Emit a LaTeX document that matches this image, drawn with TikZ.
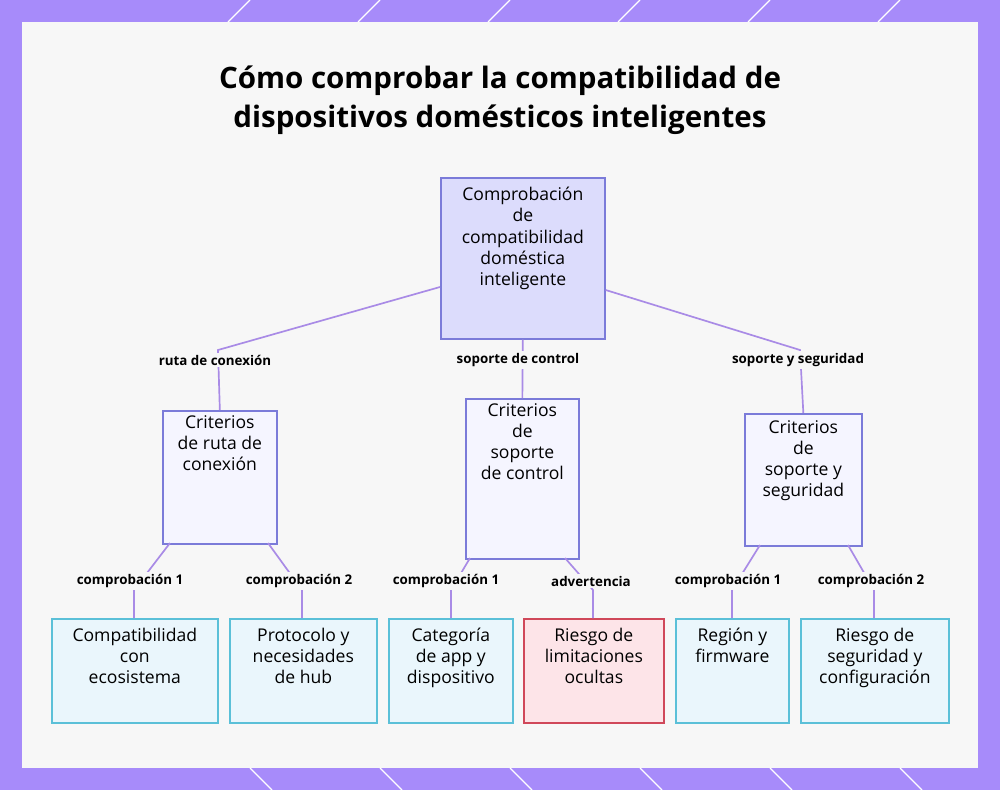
\documentclass[tikz,border=0pt]{standalone}
\usepackage{fontspec}
\setmainfont{Open Sans}
\usepackage{xcolor}
\usetikzlibrary{positioning}
\definecolor{frame}{HTML}{A78BFA}
\definecolor{panel}{HTML}{F7F7F7}
\definecolor{edgec}{HTML}{A98BE6}
\definecolor{rootf}{HTML}{DCDCFC}
\definecolor{rootd}{HTML}{7B7BD9}
\definecolor{midf}{HTML}{F5F5FF}
\definecolor{leaff}{HTML}{EAF6FC}
\definecolor{leafd}{HTML}{5BC0D8}
\definecolor{warnf}{HTML}{FDE4E8}
\definecolor{warnd}{HTML}{D0485A}
\tikzset{
  box/.style={draw, line width=1.2pt, align=center, anchor=north west, inner sep=0pt, font=\fontsize{12.5}{15}\selectfont},
  rootbox/.style={box, fill=rootf, draw=rootd},
  midbox/.style={box, fill=midf, draw=rootd},
  leafbox/.style={box, fill=leaff, draw=leafd},
  warnbox/.style={box, fill=warnf, draw=warnd},
  link/.style={draw=edgec, line width=1.2pt},
  lbl/.style={fill=panel, inner sep=1.5pt, font=\bfseries\fontsize{9.5}{11}\selectfont}
}
\begin{document}
\begin{tikzpicture}[x=0.025cm, y=-0.025cm]
        \useasboundingbox (0,0) rectangle (1000,790);
        \clip (0,0) rectangle (1000,790);
        \fill[frame] (0,0) rectangle (1000,790);
        \fill[panel] (22,22) rectangle (978,768);
        \foreach \a in {0,130,...,1000} {
          \draw[white, line width=0.8pt] (\a+250,0) -- (\a+228,22);
          \draw[white, line width=0.8pt] (\a+250,768) -- (\a+272,790);
        }
        \node (title) at (500,100) [align=center, font=\bfseries\fontsize{21}{28}\selectfont] {Cómo comprobar la compatibilidad de\\dispositivos domésticos inteligentes};
        % root
        \node (root) at (440,177) [rootbox, minimum width=164*0.025cm, minimum height=161*0.025cm, text depth=1.1cm] {Comprobación\\de\\compatibilidad\\doméstica\\inteligente};
        % middle level
        \node (ruta) at (162,410) [midbox, minimum width=114*0.025cm, minimum height=133*0.025cm, text depth=1.7cm] {Criterios\\de ruta de\\conexión};
        \node (control) at (465,398) [midbox, minimum width=113*0.025cm, minimum height=160*0.025cm, text depth=1.85cm] {Criterios\\de\\soporte\\de control};
        \node (seguridad) at (744,413) [midbox, minimum width=117*0.025cm, minimum height=132*0.025cm, text depth=1.05cm] {Criterios\\de\\soporte y\\seguridad};
        % leaves
        \node (eco) at (51,618) [leafbox, minimum width=166*0.025cm, minimum height=104*0.025cm, text depth=0.75cm] {Compatibilidad\\con\\ecosistema};
        \node (hub) at (229,618) [leafbox, minimum width=147*0.025cm, minimum height=104*0.025cm, text depth=0.75cm] {Protocolo y\\necesidades\\de hub};
        \node (app) at (388,618) [leafbox, minimum width=124*0.025cm, minimum height=104*0.025cm, text depth=0.75cm] {Categoría\\de app y\\dispositivo};
        \node (riesgo) at (523,618) [warnbox, minimum width=140*0.025cm, minimum height=104*0.025cm, text depth=0.75cm] {Riesgo de\\limitaciones\\ocultas};
        \node (region) at (675,618) [leafbox, minimum width=113*0.025cm, minimum height=104*0.025cm, text depth=1.3cm] {Región y\\firmware};
        \node (config) at (800,618) [leafbox, minimum width=148*0.025cm, minimum height=104*0.025cm, text depth=0.75cm] {Riesgo de\\seguridad y\\configuración};
        % connectors
        \coordinate (k1) at (218,350);
        \coordinate (k2) at (800,350);
        \draw [link] (root.west |- 0,287) -- (k1) -- (ruta.north);
        \draw [link] (root.south) -- (control.north);
        \draw [link] (root.east |- 0,290) -- (k2) -- (seguridad.north);
        \coordinate (a1) at (134,590); \coordinate (a2) at (302,590);
        \coordinate (b1) at (451,590); \coordinate (b2) at (593,590);
        \coordinate (c1) at (732,590); \coordinate (c2) at (874,590);
        \draw [link] (170,543) -- (a1) -- (a1 |- eco.north);
        \draw [link] (268,543) -- (a2) -- (a2 |- hub.north);
        \draw [link] (470,558) -- (b1) -- (b1 |- app.north);
        \draw [link] (565,558) -- (b2) -- (b2 |- riesgo.north);
        \draw [link] (760,545) -- (c1) -- (c1 |- region.north);
        \draw [link] (848,545) -- (c2) -- (c2 |- config.north);
        % labels
        \node (l1) at (215,360) [lbl] {ruta de conexión};
        \node (l2) at (518,360) [lbl] {soporte de control};
        \node (l3) at (798,360) [lbl] {soporte y seguridad};
        \node (l4) at (130,581) [lbl] {comprobación 1};
        \node (l5) at (299,581) [lbl] {comprobación 2};
        \node (l6) at (446,581) [lbl] {comprobación 1};
        \node (l7) at (591,581) [lbl] {advertencia};
        \node (l8) at (728,581) [lbl] {comprobación 1};
        \node (l9) at (871,581) [lbl] {comprobación 2};
\end{tikzpicture}
\end{document}
